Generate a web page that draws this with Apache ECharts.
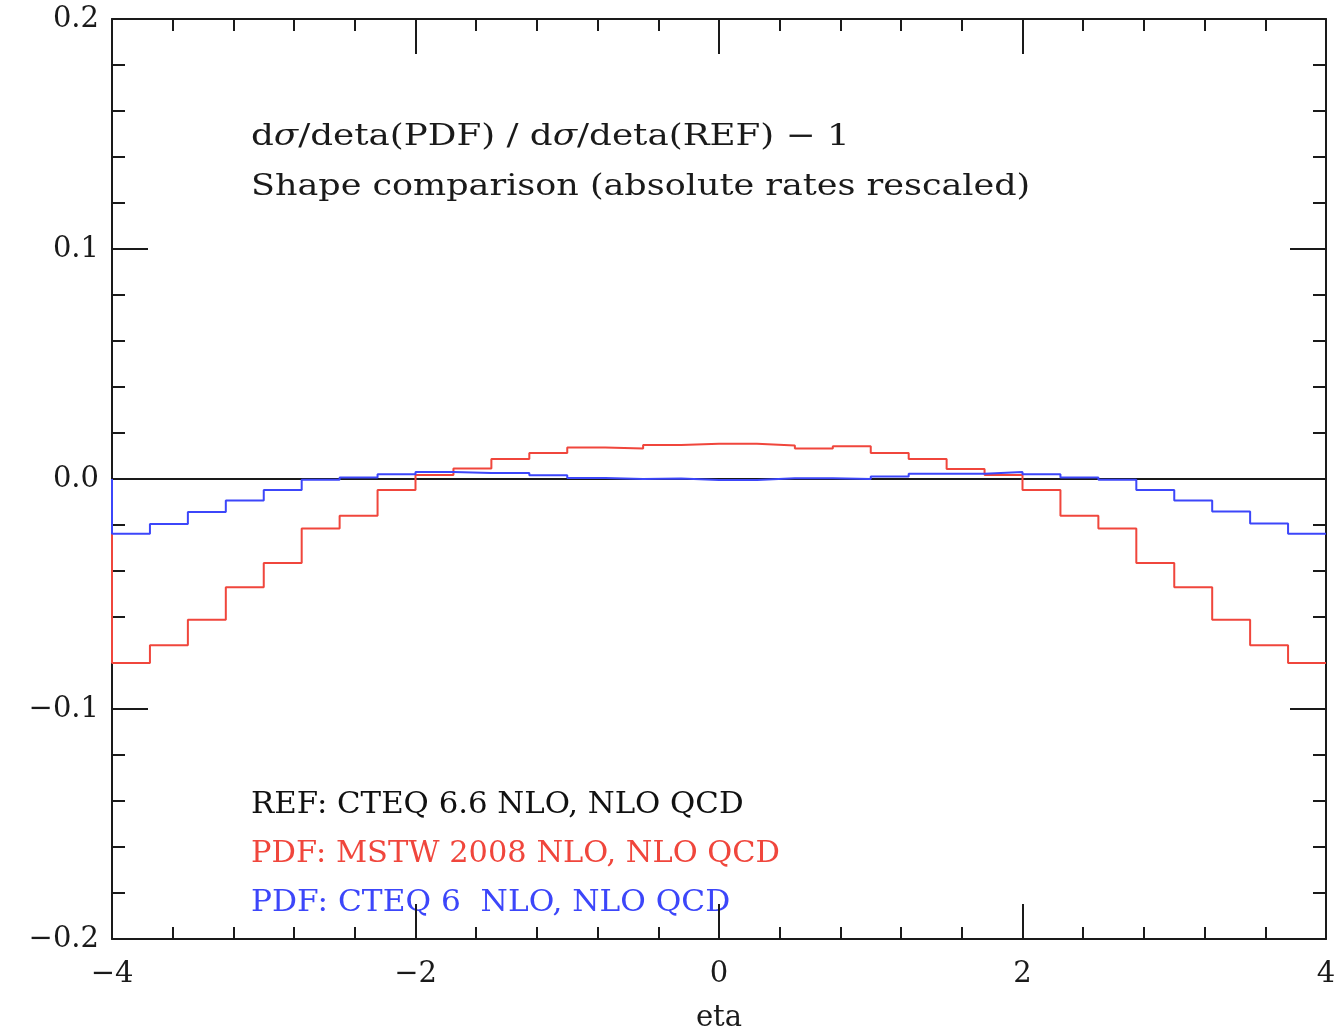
<!DOCTYPE html>
<html>
<head>
<meta charset="utf-8">
<script src="https://cdn.jsdelivr.net/npm/echarts@6/dist/echarts.min.js"></script>
<style>
  html, body { margin: 0; padding: 0; background: #fff; overflow: hidden; }
  #chart { width: 1335px; height: 1033px; }
</style>
</head>
<body>
<div id="chart"></div>
<script>
// Bin edges in eta (32 bins of width 0.25)
const etaEdges = [
  -4.00, -3.75, -3.50, -3.25, -3.00, -2.75, -2.50, -2.25,
  -2.00, -1.75, -1.50, -1.25, -1.00, -0.75, -0.50, -0.25,
   0.00,  0.25,  0.50,  0.75,  1.00,  1.25,  1.50,  1.75,
   2.00,  2.25,  2.50,  2.75,  3.00,  3.25,  3.50,  3.75, 4.00
];

// dsigma/deta(PDF) / dsigma/deta(REF) - 1, per bin
const mstw2008 = [
  -0.0800, -0.0723, -0.0612, -0.0471, -0.0365, -0.0215, -0.0160, -0.0048,
   0.0017,  0.0046,  0.0087,  0.0113,  0.0137,  0.0133,  0.0148,  0.0153,
   0.0153,  0.0146,  0.0133,  0.0142,  0.0113,  0.0087,  0.0043,  0.0017,
  -0.0048, -0.0160, -0.0215, -0.0365, -0.0471, -0.0612, -0.0723, -0.0800
];
const cteq6 = [
  -0.0238, -0.0196, -0.0144, -0.0094, -0.0048, -0.0003,  0.0007,  0.0021,
   0.0030,  0.0026,  0.0026,  0.0016,  0.0004,  0.0000,  0.0002, -0.0004,
  -0.0004,  0.0003,  0.0003,  0.0000,  0.0011,  0.0023,  0.0023,  0.0030,
   0.0021,  0.0007, -0.0003, -0.0048, -0.0094, -0.0141, -0.0194, -0.0238
];

const xRange = [-4, 4];
const yRange = [-0.2, 0.2];

const titleLines = [
  '{n|d}{i|σ}{n|/deta(PDF) / d}{i|σ}{n|/deta(REF) − 1}',
  'Shape comparison (absolute rates rescaled)'
];
const legendLines = [
  { text: 'REF: CTEQ 6.6 NLO, NLO QCD', color: '#111111', stretch: 1.026 },
  { text: 'PDF: MSTW 2008 NLO, NLO QCD', color: '#f0463c', stretch: 1.015 },
  { text: 'PDF: CTEQ 6  NLO, NLO QCD', color: '#3c46fa', stretch: 1.04 }
];

const FONT = '"DejaVu Serif", "Liberation Serif", serif';
const INK = '#1a1a1a';
const RED = '#f0463c';
const BLUE = '#3c46fa';

// Histogram outline: start at the baseline on the left edge, then flat steps per bin
function histPath(vals) {
  const pts = [[etaEdges[0], 0]];
  vals.forEach((v, i) => {
    pts.push([etaEdges[i], v]);
    pts.push([etaEdges[i + 1], v]);
  });
  return pts;
}

const minus = s => s.replace('-', '\u2212');

function xAxisDef(pos, showLabels) {
  return {
    type: 'value', position: pos, min: xRange[0], max: xRange[1], interval: 2,
    name: showLabels ? 'eta' : '', nameLocation: 'middle', nameGap: 65,
    nameTextStyle: { fontFamily: FONT, fontSize: 29, color: INK },
    axisLine: { show: true, onZero: false, lineStyle: { color: INK, width: 2 } },
    axisTick: { show: true, inside: true, length: 35, lineStyle: { color: INK, width: 2 } },
    minorTick: { show: true, splitNumber: 5, length: 12, lineStyle: { color: INK, width: 2 } },
    splitLine: { show: false },
    axisLabel: {
      show: showLabels, margin: 21, fontFamily: FONT, fontSize: 29, color: INK,
      showMinLabel: true, showMaxLabel: true,
      formatter: v => minus(String(v))
    }
  };
}
function yAxisDef(pos, showLabels) {
  return {
    type: 'value', position: pos, min: yRange[0], max: yRange[1], interval: 0.1,
    axisLine: { show: true, onZero: false, lineStyle: { color: INK, width: 2 } },
    axisTick: { show: true, inside: true, length: 36, lineStyle: { color: INK, width: 2 } },
    minorTick: { show: true, splitNumber: 5, length: 13, lineStyle: { color: INK, width: 2 } },
    splitLine: { show: false },
    axisLabel: {
      show: showLabels, margin: 13, fontFamily: FONT, fontSize: 29, color: INK,
      showMinLabel: true, showMaxLabel: true, padding: [8, 0, 0, 0],
      formatter: v => minus((Math.round(v * 10) / 10).toFixed(1))
    }
  };
}

const chart = echarts.init(document.getElementById('chart'), null, { renderer: 'canvas' });

// Annotation text, stretched horizontally from its left edge
const graphics = [];
graphics.push({
  type: 'text', x: 251, y: 137, scaleX: 1.19, originX: 0, originY: 0,
  style: {
    text: titleLines[0], verticalAlign: 'middle',
    rich: {
      n: { fontFamily: FONT, fontSize: 30, fill: INK },
      i: { fontFamily: FONT, fontSize: 30, fontStyle: 'italic', fill: INK }
    }
  }
});
graphics.push({
  type: 'text', x: 251, y: 187, scaleX: 1.165, originX: 0, originY: 0,
  style: { text: titleLines[1], verticalAlign: 'middle', fontFamily: FONT, fontSize: 30, fill: INK }
});
legendLines.forEach((l, i) => {
  graphics.push({
    type: 'text', x: 251, y: 805 + i * 49, scaleX: l.stretch, originX: 0, originY: 0,
    style: { text: l.text, verticalAlign: 'middle', fontFamily: FONT, fontSize: 30, fill: l.color }
  });
});

chart.setOption({
  animation: false,
  backgroundColor: '#ffffff',
  grid: {
    left: 112, top: 19, width: 1214, height: 920,
    containLabel: false, outerBoundsMode: 'none'
  },
  xAxis: [xAxisDef('bottom', true), xAxisDef('top', false)],
  yAxis: [yAxisDef('left', true), yAxisDef('right', false)],
  graphic: graphics,
  series: [
    {
      name: 'zero', type: 'line', xAxisIndex: 0, yAxisIndex: 0,
      data: [[xRange[0], 0], [xRange[1], 0]],
      showSymbol: false, lineStyle: { color: INK, width: 2 }, silent: true
    },
    {
      name: 'MSTW 2008', type: 'line', xAxisIndex: 0, yAxisIndex: 0,
      data: histPath(mstw2008),
      showSymbol: false, lineStyle: { color: RED, width: 2 }
    },
    {
      name: 'CTEQ 6', type: 'line', xAxisIndex: 0, yAxisIndex: 0,
      data: histPath(cteq6),
      showSymbol: false, lineStyle: { color: BLUE, width: 2 }
    }
  ]
});
</script>
</body>
</html>
